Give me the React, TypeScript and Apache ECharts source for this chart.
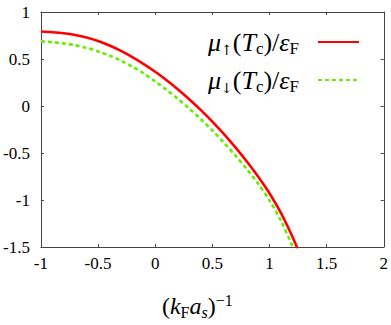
import React, { useEffect, useRef } from "react";
import * as echarts from "echarts";

const xTicks = { min: -1, max: 2, interval: 0.5 };
const yTicks = { min: -1.5, max: 1, interval: 0.5 };

const upX = [-1, -0.9, -0.8, -0.7, -0.6, -0.5, -0.4, -0.3, -0.2, -0.1, 0, 0.1, 0.2, 0.3, 0.4, 0.5, 0.6, 0.7, 0.8, 0.9, 1.0, 1.1, 1.2, 1.25, 1.3];
const upY = [0.792, 0.785, 0.774, 0.756, 0.729, 0.691, 0.643, 0.586, 0.52, 0.446, 0.364, 0.274, 0.176, 0.07, -0.044, -0.166, -0.297, -0.438, -0.588, -0.75, -0.928, -1.138, -1.388, -1.53, -1.68];

const downX = [-1, -0.9, -0.8, -0.7, -0.6, -0.5, -0.4, -0.3, -0.2, -0.1, 0, 0.1, 0.2, 0.3, 0.4, 0.5, 0.6, 0.7, 0.8, 0.9, 1.0, 1.1, 1.2, 1.25];
const downY = [0.687, 0.679, 0.666, 0.646, 0.618, 0.581, 0.537, 0.483, 0.419, 0.345, 0.261, 0.171, 0.074, -0.03, -0.141, -0.26, -0.388, -0.524, -0.669, -0.824, -1.004, -1.219, -1.489, -1.65];

const seriesNames = ["up", "down"];

const FONT = "Liberation Serif";
const ARROW_FONT = "DejaVu Serif";

export default function App() {
  const ref = useRef<HTMLDivElement>(null);
  useEffect(() => {
    if (!ref.current) return;
    const chart = echarts.init(ref.current, null, { renderer: "svg" });
    const axisColor = "#444";
    const mkX = (pos: "bottom" | "top", show: boolean) => ({
      type: "value",
      position: pos,
      min: xTicks.min,
      max: xTicks.max,
      interval: xTicks.interval,
      axisLine: { show: true, onZero: false, lineStyle: { color: axisColor, width: 1 } },
      axisTick: { show: true, inside: true, length: 3, lineStyle: { color: axisColor } },
      axisLabel: {
        show,
        color: "#000",
        fontFamily: FONT,
        fontSize: 17,
        margin: 8,
        showMinLabel: true,
        showMaxLabel: true,
      },
      splitLine: { show: false },
    });
    const mkY = (pos: "left" | "right", show: boolean) => ({
      type: "value",
      position: pos,
      min: yTicks.min,
      max: yTicks.max,
      interval: yTicks.interval,
      axisLine: { show: true, onZero: false, lineStyle: { color: axisColor, width: 1 } },
      axisTick: { show: true, inside: true, length: 3, lineStyle: { color: axisColor } },
      axisLabel: {
        show,
        color: "#000",
        fontFamily: FONT,
        fontSize: 17,
        margin: 11,
        showMinLabel: true,
        showMaxLabel: true,
      },
      splitLine: { show: false },
    });
    const mathRich = {
      i: { fontFamily: FONT, fontStyle: "italic", fontSize: 26, lineHeight: 30, verticalAlign: "middle", color: "#000" },
      r: { fontFamily: FONT, fontSize: 26, lineHeight: 30, verticalAlign: "middle", color: "#000" },
      sub: { fontFamily: FONT, fontSize: 17, lineHeight: 14, verticalAlign: "bottom", color: "#000" },
      arr: { fontFamily: ARROW_FONT, fontSize: 14, lineHeight: 14, verticalAlign: "bottom", color: "#000" },
      gap: { width: 14, fontSize: 10 },
    };
    const xRich = {
      i: { fontFamily: FONT, fontStyle: "italic", fontSize: 24, lineHeight: 28, verticalAlign: "middle", color: "#000" },
      r: { fontFamily: FONT, fontSize: 24, lineHeight: 28, verticalAlign: "middle", color: "#000" },
      sub: { fontFamily: FONT, fontSize: 16, lineHeight: 13, verticalAlign: "bottom", color: "#000" },
      subi: { fontFamily: FONT, fontStyle: "italic", fontSize: 16, lineHeight: 13, verticalAlign: "bottom", color: "#000" },
      sup: { fontFamily: FONT, fontSize: 16, lineHeight: 11, verticalAlign: "top", color: "#000" },
    };
    const legendLabel = (name: string) => {
      const arrow = name === "up" ? "\u2191" : "\u2193";
      return `{i|\u03bc}{arr|${arrow}}{r|(}{i|T}{sub|c}{r|)/}{i|\u03b5}{sub|F}{gap|}`;
    };
    chart.setOption({
      animation: false,
      backgroundColor: "#fff",
      grid: { left: 40, right: 7, top: 12, bottom: 59, containLabel: false },
      xAxis: [
        {
          ...mkX("bottom", true),
          name: "{r|(}{i|k}{sub|F}{i|a}{subi|s}{r|)}{sup|\u22121}",
          nameLocation: "middle",
          nameGap: 45,
          nameTextStyle: { rich: xRich, padding: [0, 30, 0, 0] },
        },
        mkX("top", false),
      ],
      yAxis: [mkY("left", true), mkY("right", false)],
      legend: {
        orient: "vertical",
        right: 26,
        top: 24,
        align: "right",
        itemWidth: 41,
        itemHeight: 10,
        itemGap: 10,
        data: seriesNames,
        formatter: legendLabel,
        textStyle: { rich: mathRich },
        itemStyle: { color: "transparent", borderColor: "transparent", borderWidth: 0, opacity: 0 },
        selectedMode: false,
      },
      series: [
        {
          name: seriesNames[0],
          type: "line",
          data: upX.map((x, k) => [x, upY[k]]),
          showSymbol: false,
          symbol: "none",
          smooth: 0.3,
          clip: true,
          lineStyle: { color: "#ff0000", width: 2.6 },
          itemStyle: { color: "#ff0000" },
        },
        {
          name: seriesNames[1],
          type: "line",
          data: downX.map((x, k) => [x, downY[k]]),
          showSymbol: false,
          symbol: "none",
          smooth: 0.3,
          clip: true,
          lineStyle: { color: "#66ee00", width: 2.6, type: [4, 3] },
          itemStyle: { color: "#66ee00" },
        },
      ],
    });
    return () => chart.dispose();
  }, []);
  return <div ref={ref} style={{ width: 391, height: 325, position: "absolute", left: 0, top: 0 }} />;
}
